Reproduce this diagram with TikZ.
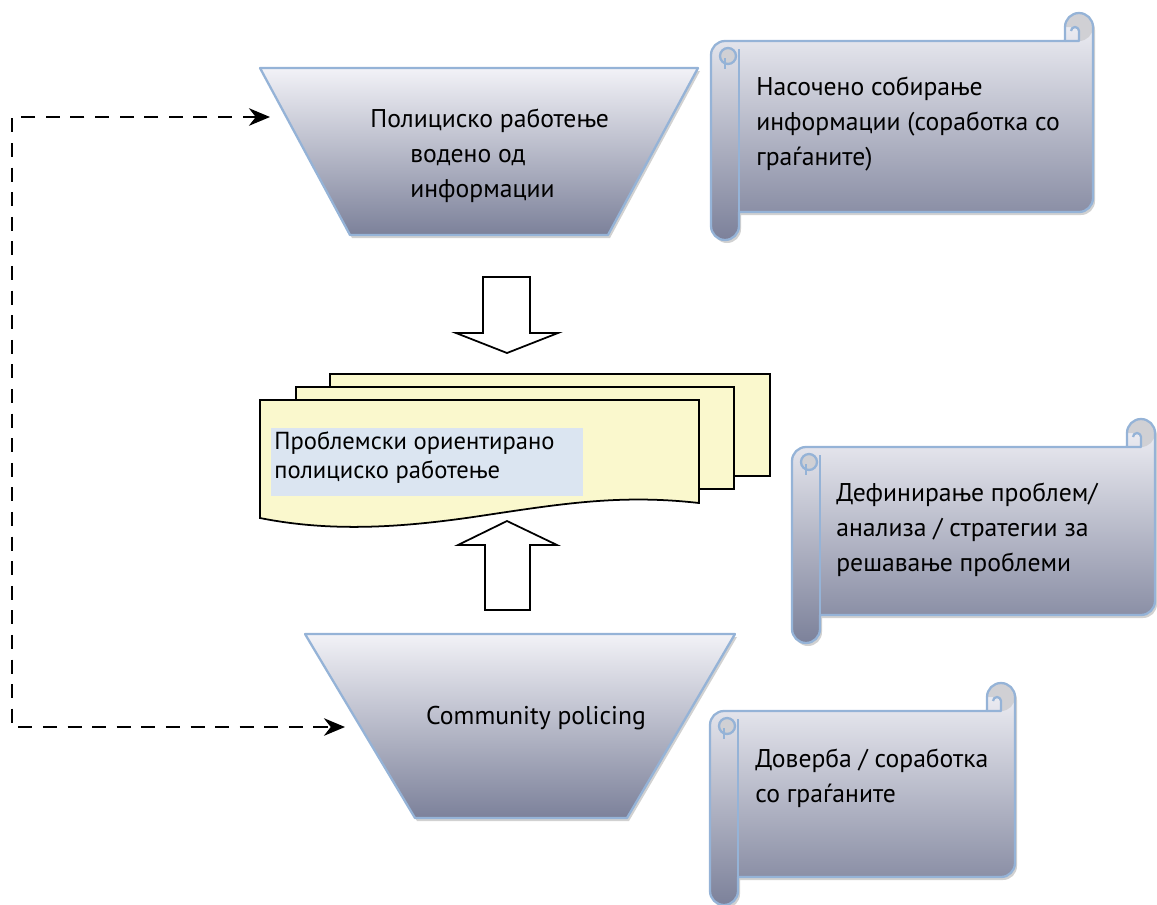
\documentclass[tikz,border=0pt]{standalone}
\usepackage{fontspec}
\setmainfont{PT Sans}
\usetikzlibrary{arrows.meta}
\definecolor{bordblue}{RGB}{149,179,215}
\definecolor{gradtop}{RGB}{242,242,247}
\definecolor{gradbot}{RGB}{124,129,154}
\definecolor{docfill}{RGB}{250,248,205}
\definecolor{hlfill}{RGB}{219,229,241}
\definecolor{curlgray}{RGB}{208,208,212}
\newcommand\scrolloutline[4]{(#1,#2+42) arc[start angle=180,end angle=270,radius=14] -- (#3-28,#2+28) -- (#3-28,#2+14) arc[start angle=180,end angle=360,radius=14] -- (#3,#4-42) arc[start angle=0,end angle=90,radius=14] -- (#1+28,#4-28) -- (#1+28,#4-14) arc[start angle=0,end angle=180,radius=14] -- cycle}
\newcommand\drawscroll[4]{%
  \fill[black!40,opacity=0.45,shift={(2,3)}] \scrolloutline{#1}{#2}{#3}{#4};
  \shade[grad] \scrolloutline{#1}{#2}{#3}{#4};
  \fill[curlgray] (#3-28,#2+14) arc[start angle=180,end angle=450,radius=14] -- (#3-14,#2+14) -- cycle;
  \fill[curlgray] (#1+17,#2+43) circle[radius=8];
  \draw[bord] \scrolloutline{#1}{#2}{#3}{#4};
  \draw[bord] (#1+28,#2+36) -- (#1+28,#4-28);
  \draw[bord] (#1+17,#2+43) circle[radius=8];
  \draw[bord] (#1+14,#2+45) -- (#1+14,#2+56);
  \draw[bord] (#3-28,#2+28) -- (#3-14,#2+28) -- (#3-14,#2+18) arc[start angle=0,end angle=-180,radius=4];
}
\begin{document}
\begin{tikzpicture}[x=0.02cm,y=-0.02cm,
  txt/.style={font=\fontsize{14.6}{19.8}\selectfont, inner sep=0pt, align=left, text=black},
  grad/.style={top color=gradtop,bottom color=gradbot},
  bord/.style={draw=bordblue,line width=1.3pt,line join=round},
  shadowed/.style={fill=black!40,opacity=0.45,shift={(2,3)}},
  blockarrow/.style={fill=white,draw=black,line width=1pt,line join=miter},
  docsheet/.style={fill=docfill,draw=black,line width=1pt,line join=miter},
  loopline/.style={line width=1.2pt,dash pattern=on 8pt off 6pt,
     arrows={Stealth[length=12pt,width=10pt]-Stealth[length=12pt,width=10pt]}}]
\useasboundingbox (0,0) rectangle (1157,904);

% top trapezoid
\fill[shadowed] (260,68) -- (698,68) -- (608,235) -- (350,235) -- cycle;
\shade[grad] (260,68) -- (698,68) -- (608,235) -- (350,235) -- cycle;
\draw[bord] (260,68) -- (698,68) -- (608,235) -- (350,235) -- cycle;
\node[txt,anchor=west] (intel) at (370,156) {Полициско работење\\\hspace*{0.8cm}водено од\\\hspace*{0.8cm}информации};

% bottom trapezoid
\fill[shadowed] (305,634) -- (735,634) -- (627,818) -- (415,818) -- cycle;
\shade[grad] (305,634) -- (735,634) -- (627,818) -- (415,818) -- cycle;
\draw[bord] (305,634) -- (735,634) -- (627,818) -- (415,818) -- cycle;
\node[txt] (cp) at (536,718) {Community policing};

% scrolls
\drawscroll{711}{13}{1093}{240}
\node[txt,anchor=west] (s1) at (756,124) {Насочено собирање\\информации (соработка со\\граѓаните)};
\drawscroll{792}{419}{1155}{643}
\node[txt,anchor=west] (s2) at (836,530) {Дефинирање проблем/\\анализа / стратегии за\\решавање проблеми};
\drawscroll{710}{683}{1015}{905}
\node[txt,anchor=west] (s3) at (755,778) {Доверба / соработка\\со граѓаните};

% block arrows
\draw[blockarrow] (483,277) -- (530,277) -- (530,333) -- (558,333) -- (507,353) -- (456,333) -- (483,333) -- cycle;
\draw[blockarrow] (485,610) -- (530,610) -- (530,545) -- (557,545) -- (507,521) -- (458,545) -- (485,545) -- cycle;

% multi-document
\draw[docsheet] (330,374) rectangle (770,476);
\draw[docsheet] (296,387) rectangle (734,489);
\draw[docsheet] (260,400) -- (699,400) -- (699,503) .. controls (620,494) and (560,504) .. (480,516) .. controls (400,528) and (330,532) .. (260,518) -- cycle;
\fill[hlfill] (271,428) rectangle (583,496);
\node[txt,anchor=west,font=\fontsize{14}{16.5}\selectfont] (pop) at (274,458) {Проблемски ориентирано\\полициско работење};

% dashed feedback connector
\coordinate (inTop) at (270,117);
\coordinate (inBot) at (345,727);
\draw[loopline] (inTop) -- ++(-258,0) |- (inBot);
\end{tikzpicture}
\end{document}
